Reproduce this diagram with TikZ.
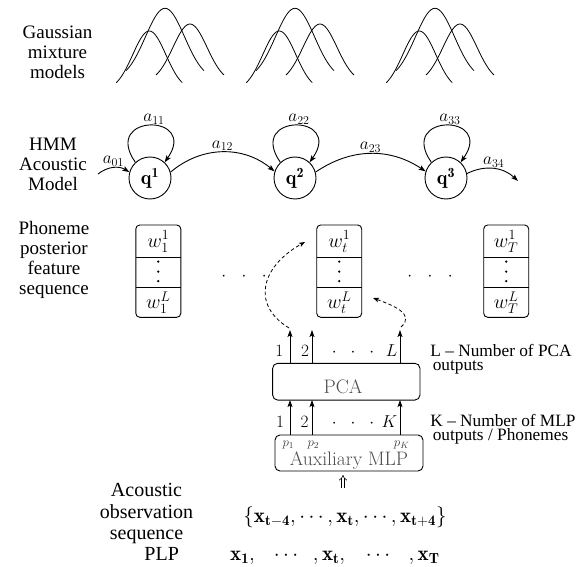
\RequirePackage{fix-cm}
\documentclass[tikz,border=0pt]{standalone}
\usepackage{fontspec}
\newfontfamily\tms{Liberation Serif}
\usetikzlibrary{arrows.meta}
\newcommand\gaussc[4]{%
  \draw[gcurve] plot[domain=-2:2,samples=41,smooth]
    ({#1+\x*#3},{#2+#4*(exp(-0.5*(\x)*(\x))-0.135335)/0.864665});}
\newcommand\gaussgroup[1]{%
  \gaussc{165+#1}{495.3}{19.5}{62.4}%
  \gaussc{149.3+#1}{483.3}{16.5}{51.7}%
  \gaussc{190+#1}{491}{17}{51}}
\newcommand\postbox[3]{%
  \node[pbox] (#1) at (#2,294.85) {};
  \draw ([yshift=13.45pt]#1.west) -- ([yshift=13.45pt]#1.east);
  \draw ([yshift=-16.15pt]#1.west) -- ([yshift=-16.15pt]#1.east);
  \node[wlab] (#1top) at ([yshift=29.6pt]#1.center) {$w_{#3}^{1}$};
  \fill ([yshift=9.5pt]#1.center) circle (1.25pt);
  \fill ([yshift=-0.5pt]#1.center) circle (1.25pt);
  \fill ([yshift=-10pt]#1.center) circle (1.25pt);
  \node[wlab] (#1bot) at ([yshift=-31.2pt]#1.center) {$w_{#3}^{L}$};
}
\begin{document}
\begin{tikzpicture}[x=1pt,y=1pt,line width=0.9pt,
  arr/.style={-{Stealth[length=7pt,width=5pt,inset=1.5pt]}},
  gcurve/.style={line width=0.8pt},
  lbl/.style={font=\tms\fontsize{19}{20}\selectfont,align=center,inner sep=0pt},
  blbl/.style={font=\tms\fontsize{20}{21.5}\selectfont,align=center,inner sep=0pt},
  rlbl/.style={font=\tms\fontsize{17.3}{15}\selectfont,inner sep=0pt,anchor=base west},
  state/.style={circle,draw,minimum size=42pt,inner sep=0pt,font=\fontsize{20}{22}\selectfont},
  alab/.style={font=\fontsize{17.28}{20}\selectfont,inner sep=1pt},
  pbox/.style={draw,rounded corners=4pt,minimum width=45pt,minimum height=92.3pt,inner sep=0pt,outer sep=0pt},
  wlab/.style={font=\fontsize{20}{22}\selectfont,inner sep=0pt},
  nlab/.style={font=\fontsize{17.28}{20}\selectfont,inner sep=0pt,anchor=base},
  plab/.style={font=\fontsize{13}{15}\selectfont,inner sep=0pt,anchor=base,text=black!75},
  blockbox/.style={draw,rounded corners=5pt,inner sep=0pt,outer sep=0pt},
  blocktext/.style={font=\fontsize{19.5}{22}\selectfont,inner sep=0pt,anchor=base,text=black!70},
  fml/.style={font=\fontsize{21}{24}\selectfont,inner sep=0pt,anchor=base},
  dsh/.style={dash pattern=on 3.5pt off 2.5pt,line width=0.8pt,-{Stealth[length=6pt,width=4.5pt,inset=1.5pt]}},
  dbl/.style={double,double distance=2.2pt,line width=0.6pt,-{Implies}},
]
\useasboundingbox (0,0) rectangle (581,566);

% ---------- Gaussian mixture models ----------
\node[lbl] (gmmlabel) at (57.5,513.5) {Gaussian\\mixture\\models};
\gaussgroup{0}
\gaussgroup{130}
\gaussgroup{270}

% ---------- HMM ----------
\node[lbl] (hmmlabel) at (53,402) {HMM\\Acoustic\\Model};
\node[state] (q1) at (150,388) {$\mathbf{q^1}$};
\node[state] (q2) at (295,388) {$\mathbf{q^2}$};
\node[state] (q3) at (446,388) {$\mathbf{q^3}$};

\draw[arr] (q1.133) .. controls +(125:60) and +(55:60) .. node[alab,pos=0.5,above,xshift=4pt] (a11) {$a_{11}$} (q1.47);
\draw[arr] (q2.133) .. controls +(125:60) and +(55:60) .. node[alab,pos=0.5,above,xshift=4pt] (a22) {$a_{22}$} (q2.47);
\draw[arr] (q3.133) .. controls +(125:60) and +(55:60) .. node[alab,pos=0.5,above,xshift=4pt] (a33) {$a_{33}$} (q3.47);

\draw[arr] (q1.16) to[bend left=40] node[alab,midway,above] (a12) {$a_{12}$} (q2.162);
\draw[arr] (q2.16) to[bend left=34] node[alab,midway,above] (a23) {$a_{23}$} (q3.162);

\coordinate (in0) at (98,392);
\draw[arr] (in0) to[bend left=35] node[alab,midway,above] (a01) {$a_{01}$} (q1.164);
\coordinate (out3) at (518,385);
\draw[arr] (q3.12) to[bend left=35] node[alab,midway,above] (a34) {$a_{34}$} (out3);

% ---------- Phoneme posterior feature sequence ----------
\node[lbl] (pplabel) at (54,306) {Phoneme\\posterior\\feature\\sequence};
\postbox{b1}{158.3}{1}
\postbox{b2}{339.2}{t}
\postbox{b3}{506.2}{T}
\node[nlab] (dots1) at (244,285.7) {${\cdot}\hspace{15.5pt}{\cdot}\hspace{15.5pt}{\cdot}$};
\node[nlab] (dots2) at (430,285.7) {${\cdot}\hspace{15.5pt}{\cdot}\hspace{15.5pt}{\cdot}$};

% ---------- PCA ----------
\node[blockbox,minimum width=147.3pt,minimum height=36.7pt] (pca) at (346.3,184.3) {};
\node[blocktext] (pcatext) at (343,172.7) {PCA};
\node[blockbox,minimum width=148pt,minimum height=36pt] (mlp) at (349,113) {};
\node[blocktext] (mlptext) at (349,100.5) {Auxiliary MLP};
\node[plab] (p1) at (288.3,119.5) {$p_1$};
\node[plab] (p2) at (313.3,119.5) {$p_2$};
\node[plab] (pK) at (401.7,119.5) {$p_K$};

\coordinate (ax1) at (290,0);
\coordinate (ax2) at (312,0);
\coordinate (axL) at (400,0);
\coordinate (otop) at (0,236);
\draw[arr] (mlp.north -| ax1) -- (pca.south -| ax1);
\draw[arr] (mlp.north -| ax2) -- (pca.south -| ax2);
\draw[arr] (mlp.north -| axL) -- (pca.south -| axL);
\draw[arr] (pca.north -| ax1) -- (otop -| ax1);
\draw[arr] (pca.north -| ax2) -- (otop -| ax2);
\draw[arr] (pca.north -| axL) -- (otop -| axL);

\node[nlab] (o1) at (279.3,210) {$1$};
\node[nlab] (o2) at (305,210) {$2$};
\node[nlab] (odots) at (353,210) {${\cdot}\hspace{14pt}{\cdot}\hspace{14pt}{\cdot}$};
\node[nlab] (oL) at (391.7,210) {$L$};
\node[nlab] (i1) at (280,139) {$1$};
\node[nlab] (i2) at (304.5,139) {$2$};
\node[nlab] (idots) at (353,139) {${\cdot}\hspace{14pt}{\cdot}\hspace{14pt}{\cdot}$};
\node[nlab] (iK) at (389.5,139) {$K$};

\node[rlbl] (lpca1) at (430,210) {L – Number of PCA};
\node[rlbl] (lpca2) at (432.3,196) {outputs};
\node[rlbl] (kmlp1) at (430,140) {K – Number of MLP};
\node[rlbl] (kmlp2) at (432.3,125.3) {outputs / Phonemes};

% dashed feedback arrows
\coordinate (dA0) at (289,238);
\coordinate (dA1) at (305,324);
\draw[dsh] (dA0) .. controls (250,262) and (262,300) .. (dA1);
\coordinate (dB0) at (401,239);
\coordinate (dB1) at (373,268);
\draw[dsh] (dB0) .. controls (416,252) and (392,261) .. (dB1);

% ---------- Observation sequence ----------
\node[blbl] (obslabel) at (146.5,52) {Acoustic\\observation\\sequence};
\node[fml] (obs) at (345,44) {$\{\mathbf{x_{t-4}},\cdots,\mathbf{x_t},\cdots,\mathbf{x_{t+4}}\}$};
\coordinate (upx) at (343,0);
\coordinate (dblbot) at (0,78);
\coordinate (dbltop) at (0,91);
\draw[dbl] (dblbot -| upx) -- (dbltop -| upx);

% ---------- PLP ----------
\node[blbl,anchor=base] (plplabel) at (161.7,6) {PLP};
\node[fml] (x1) at (242.5,6) {$\mathbf{x_1},$};
\node[fml] (xd1) at (286,6) {$\cdots$};
\node[fml] (xt) at (329,6) {$,\mathbf{x_t},$};
\node[fml] (xd2) at (378,6) {$\cdots$};
\node[fml] (xT) at (424,6) {$,\mathbf{x_T}$};
\end{tikzpicture}
\end{document}
